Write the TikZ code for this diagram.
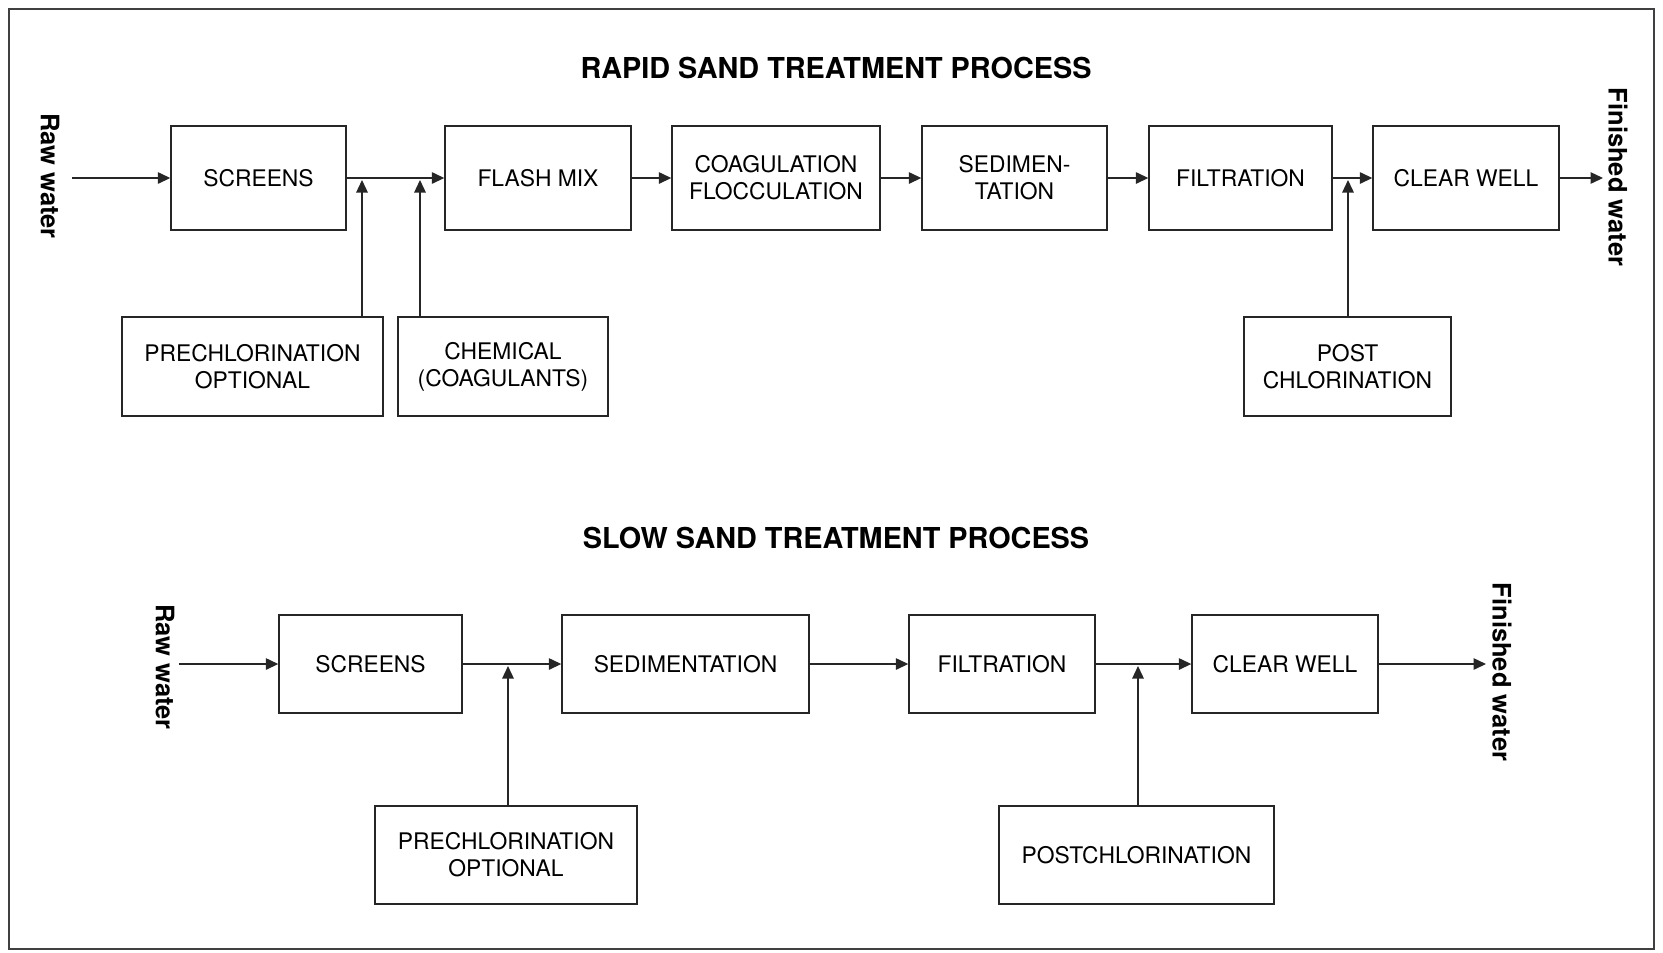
\documentclass[tikz,border=0pt]{standalone}
\usepackage{fontspec}
\setmainfont{TeX Gyre Heros}
\usetikzlibrary{arrows.meta}
\tikzset{
  unit/.style = {draw = black!85, line width = 0.8pt, align = center, inner sep = 0pt,
                 font = \fontsize{13}{15.5}\selectfont},
  flow/.style = {-{Triangle[length = 0.25cm, width = 0.23cm]}, line width = 0.8pt, draw = black!85},
  heading/.style = {font = \fontsize{16.4}{18}\selectfont\bfseries},
  side/.style = {rotate = -90, font = \fontsize{14.5}{16}\selectfont\bfseries}
}

\begin{document}
\begin{tikzpicture}
\useasboundingbox (0, 0) rectangle (33.26, -19.04);
\draw[black!75, line width = 0.8pt] (0.18, -0.18) rectangle (33.08, -18.98);

% rapid sand
\begin{scope}
\node[heading] (titleR) at (16.72, -1.36) {RAPID SAND TREATMENT PROCESS};
\node[side] (rawR) at (1.0, -3.52) {Raw water};
\node[side] (finR) at (32.36, -3.54) {Finished water};
\coordinate (inR) at (1.44, -3.56);
\coordinate (outR) at (32.06, -3.56);

\node[unit, minimum width = 3.5cm, minimum height = 2.08cm] (scrR) at (5.17, -3.56) {SCREENS};
\node[unit, minimum width = 3.72cm, minimum height = 2.08cm] (mixR) at (10.76, -3.56) {FLASH MIX};
\node[unit, minimum width = 4.16cm, minimum height = 2.08cm] (coaR) at (15.52, -3.56) {COAGULATION\\FLOCCULATION};
\node[unit, minimum width = 3.7cm, minimum height = 2.08cm] (sedR) at (20.29, -3.56) {SEDIMEN-\\TATION};
\node[unit, minimum width = 3.66cm, minimum height = 2.08cm] (filR) at (24.81, -3.56) {FILTRATION};
\node[unit, minimum width = 3.72cm, minimum height = 2.08cm] (wellR) at (29.32, -3.56) {CLEAR WELL};

\node[unit, minimum width = 5.22cm, minimum height = 1.98cm] (preR) at (5.05, -7.33) {PRECHLORINATION\\OPTIONAL};
\node[unit, minimum width = 4.2cm, minimum height = 1.98cm] (chemR) at (10.06, -7.33) {CHEMICAL\\(COAGULANTS)};
\node[unit, minimum width = 4.14cm, minimum height = 1.98cm] (postR) at (26.95, -7.33) {POST\\CHLORINATION};

\coordinate (jaR) at (7.24, -3.6);
\coordinate (jbR) at (8.4, -3.6);
\coordinate (jcR) at (26.96, -3.6);

\draw[flow] (inR) -- (scrR);
\draw[flow] (scrR) -- (mixR);
\draw[flow] (mixR) -- (coaR);
\draw[flow] (coaR) -- (sedR);
\draw[flow] (sedR) -- (filR);
\draw[flow] (filR) -- (wellR);
\draw[flow] (wellR) -- (outR);
\draw[flow] (preR.north -| jaR) -- (jaR);
\draw[flow] (chemR.north -| jbR) -- (jbR);
\draw[flow] (postR.north -| jcR) -- (jcR);
\end{scope}

% slow sand
\begin{scope}
\node[heading] (titleS) at (16.72, -10.76) {SLOW SAND TREATMENT PROCESS};
\node[side] (rawS) at (3.3, -13.34) {Raw water};
\node[side] (finS) at (30.04, -13.44) {Finished water};
\coordinate (inS) at (3.57, -13.28);
\coordinate (outS) at (29.72, -13.28);

\node[unit, minimum width = 3.66cm, minimum height = 1.96cm] (scrS) at (7.41, -13.28) {SCREENS};
\node[unit, minimum width = 4.94cm, minimum height = 1.96cm] (sedS) at (13.71, -13.28) {SEDIMENTATION};
\node[unit, minimum width = 3.72cm, minimum height = 1.96cm] (filS) at (20.04, -13.28) {FILTRATION};
\node[unit, minimum width = 3.72cm, minimum height = 1.96cm] (wellS) at (25.7, -13.28) {CLEAR WELL};

\node[unit, minimum width = 5.24cm, minimum height = 1.96cm] (preS) at (10.12, -17.1) {PRECHLORINATION\\OPTIONAL};
\node[unit, minimum width = 5.5cm, minimum height = 1.96cm] (postS) at (22.73, -17.1) {POSTCHLORINATION};

\coordinate (jaS) at (10.16, -13.32);
\coordinate (jbS) at (22.76, -13.32);

\draw[flow] (inS) -- (scrS);
\draw[flow] (scrS) -- (sedS);
\draw[flow] (sedS) -- (filS);
\draw[flow] (filS) -- (wellS);
\draw[flow] (wellS) -- (outS);
\draw[flow] (preS.north -| jaS) -- (jaS);
\draw[flow] (postS.north -| jbS) -- (jbS);
\end{scope}
\end{tikzpicture}
\end{document}
